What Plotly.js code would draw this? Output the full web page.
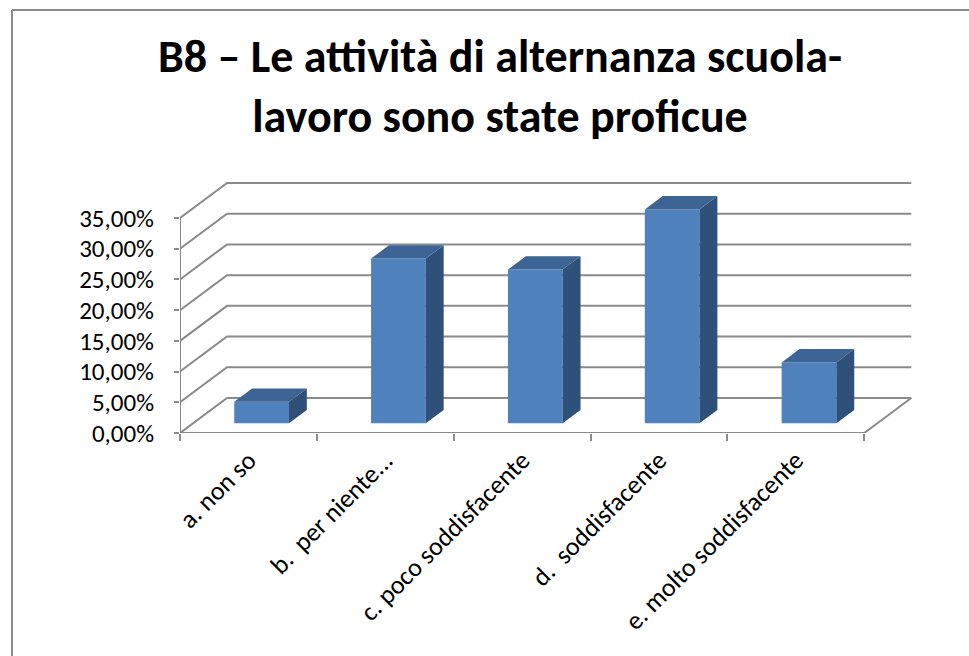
<!DOCTYPE html>
<html>
<head>
<meta charset="utf-8">
<script src="https://cdn.plot.ly/plotly-3.0.1.min.js"></script>
<style>html,body{margin:0;padding:0;background:#fff;} #chart{width:969px;height:656px;}</style>
</head>
<body>
<div id="chart"></div>
<script>
// ---- data ----
const categories = ['a. non so', 'b.\u00a0 per niente...', 'c. poco soddisfacente', 'd.\u00a0 soddisfacente', 'e. molto soddisfacente'];
const values = [0.035, 0.268, 0.250, 0.348, 0.099];
const yTickVals = [0, 0.05, 0.10, 0.15, 0.20, 0.25, 0.30, 0.35];
const titleText = 'B8 \u2013 Le attivit\u00e0 di alternanza scuola-<br>lavoro sono state proficue';

// ---- 3D projection settings (style) ----
const DX = 0.3436;   // depth offset along x (category units)
const DY = 0.057;    // depth offset along y (value units)
const F0 = 0.28, F1 = 0.66; // bar front/back depth fractions
const BW = 0.40;     // bar width
const GRID = '#8a8a8a';
const FRONT = '#4F81BD', TOP = '#3C6494', SIDE = '#2F5079';
const FONT = 'Carlito, Lato, "Liberation Sans", sans-serif';

const idx = categories.map((_, i) => i);
const nCat = categories.length;
const xLeft = -0.5, xRight = nCat - 0.5;
const yTop = yTickVals[yTickVals.length - 1];

// gridlines (left wall + back wall)
const shapes = [];
yTickVals.forEach(v => {
  shapes.push({type: 'path', xref: 'x', yref: 'y', layer: 'below',
    path: `M ${xLeft} ${v} L ${xLeft + DX} ${v + DY} L ${xRight + DX} ${v + DY}`,
    line: {color: GRID, width: 2}});
});
// floor front edge + right edge
shapes.push({type: 'path', xref: 'x', yref: 'y', layer: 'below',
  path: `M ${xLeft} 0 L ${xRight} 0 L ${xRight + DX} ${DY}`,
  line: {color: GRID, width: 2}});
// front vertical axis line
shapes.push({type: 'line', xref: 'x', yref: 'y', layer: 'below',
  x0: xLeft, x1: xLeft, y0: 0, y1: yTop, line: {color: GRID, width: 2}});
// outer chart frame (top and left edges visible)
shapes.push({type: 'line', xref: 'paper', yref: 'paper',
  x0: (12 - 180) / 739, x1: 2, y0: (433 - 10) / 258, y1: (433 - 10) / 258,
  line: {color: '#8c8c8c', width: 2}});
shapes.push({type: 'line', xref: 'paper', yref: 'paper',
  x0: (12 - 180) / 739, x1: (12 - 180) / 739, y0: -2, y1: (433 - 10) / 258,
  line: {color: '#8c8c8c', width: 2}});

// bar faces
const b0 = F0 * DY;
const ddx = (F1 - F0) * DX, ddy = (F1 - F0) * DY;
const sideX = [], sideY = [], topX = [], topY = [];
idx.forEach(i => {
  const v = values[i];
  const xc = i + F0 * DX;
  const xL = xc - BW / 2, xR = xc + BW / 2;
  sideX.push(xR, xR + ddx, xR + ddx, xR, xR, null);
  sideY.push(b0, b0 + ddy, b0 + ddy + v, b0 + v, b0, null);
  topX.push(xL, xR, xR + ddx, xL + ddx, xL, null);
  topY.push(b0 + v, b0 + v, b0 + v + ddy, b0 + v + ddy, b0 + v, null);
});

const traces = [
  {type: 'bar', x: idx.map(i => i + F0 * DX), y: values, base: values.map(() => b0),
   width: BW, marker: {color: FRONT, line: {width: 0}}, hoverinfo: 'skip', showlegend: false},
  {type: 'scatter', mode: 'lines', x: sideX, y: sideY, fill: 'toself', fillcolor: SIDE,
   line: {width: 0, color: SIDE}, hoverinfo: 'skip', showlegend: false},
  {type: 'scatter', mode: 'lines', x: topX, y: topY, fill: 'toself', fillcolor: TOP,
   line: {width: 0, color: TOP}, hoverinfo: 'skip', showlegend: false},
  // carrier for boundary tick axis
  {type: 'scatter', mode: 'markers', x: [0], y: [0], xaxis: 'x2', yaxis: 'y',
   marker: {opacity: 0}, hoverinfo: 'skip', showlegend: false}
];

const boundaries = [];
for (let i = 0; i <= nCat; i++) boundaries.push(i - 0.5);

const layout = {
  width: 969, height: 656,
  margin: {l: 180, r: 50, t: 175, b: 223, pad: 0},
  paper_bgcolor: '#ffffff', plot_bgcolor: 'rgba(0,0,0,0)',
  separators: ',.',
  showlegend: false,
  title: {text: titleText, font: {family: FONT, size: 46, color: '#000', weight: 700},
          xref: 'container', x: 500 / 969, xanchor: 'center',
          yref: 'container', y: 1 - 72 / 656, yanchor: 'middle'},
  xaxis: {type: 'linear', range: [-0.5, 4.9], tickvals: idx, ticktext: categories,
          tickangle: -45, ticks: '', showgrid: false, zeroline: false, showline: false,
          tickfont: {family: FONT, size: 26, color: '#000'}, ticklabelstandoff: 6, fixedrange: true},
  xaxis2: {type: 'linear', range: [-0.5, 4.9], overlaying: 'x', anchor: 'y', side: 'bottom',
           tickvals: boundaries, showticklabels: false, ticks: 'outside', ticklen: 7,
           tickwidth: 2, tickcolor: GRID, showgrid: false, zeroline: false, showline: false},
  yaxis: {range: [0, 0.42], tickvals: yTickVals, tickformat: '.2%', ticks: 'outside', ticklen: 5,
          tickwidth: 2, tickcolor: GRID, showgrid: false, zeroline: false, showline: false,
          tickfont: {family: FONT, size: 25, color: '#000'}, ticklabelstandoff: 15, fixedrange: true},
  shapes: shapes
};

Plotly.newPlot('chart', traces, layout, {displayModeBar: false, staticPlot: true});
</script>
</body>
</html>
